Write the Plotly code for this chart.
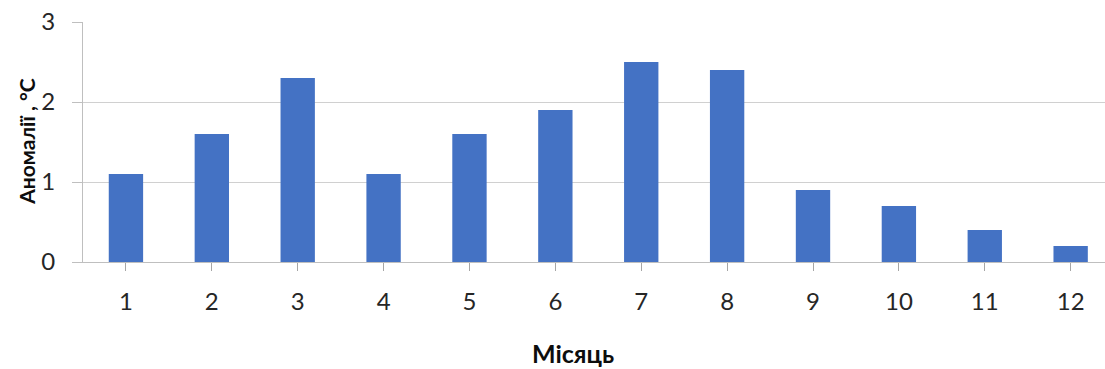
import plotly.graph_objects as go

months = [1, 2, 3, 4, 5, 6, 7, 8, 9, 10, 11, 12]
anomalies = [1.1, 1.6, 2.3, 1.1, 1.6, 1.9, 2.5, 2.4, 0.9, 0.7, 0.4, 0.2]
y_ticks = [0, 1, 2, 3]

fig = go.Figure(
    go.Bar(
        x=months,
        y=anomalies,
        width=0.4,
        marker=dict(color="#4472C4", line=dict(width=0)),
    )
)

tick_font = dict(family="Lato, Open Sans, sans-serif", size=24, color="#262626")
title_font = dict(family="Lato, Open Sans, sans-serif", size=21, color="#0d0d0d")

fig.update_layout(
    width=1105,
    height=369,
    margin=dict(l=83, r=0, t=22, b=107),
    paper_bgcolor="white",
    plot_bgcolor="white",
    showlegend=False,
    xaxis=dict(
        range=[0.5, 12.4],
        tickvals=months,
        ticktext=[str(m) for m in months],
        tickfont=tick_font,
        ticks="outside",
        ticklen=8,
        tickcolor="#a6a6a6",
        ticklabelstandoff=10,
        showgrid=False,
        showline=True,
        linecolor="#bfbfbf",
        linewidth=1,
        zeroline=False,
    ),
    yaxis=dict(
        range=[0, 3],
        tickvals=y_ticks,
        tickfont=tick_font,
        ticks="outside",
        ticklen=10,
        tickcolor="#bfbfbf",
        ticklabelstandoff=12,
        showgrid=True,
        gridcolor="#d0d0d0",
        gridwidth=1,
        showline=True,
        linecolor="#bfbfbf",
        linewidth=1,
        zeroline=False,
    ),
    annotations=[
        dict(
            text="<b>Аномалії , °C</b>",
            xref="paper", yref="paper",
            x=-0.056, y=0.5,
            xanchor="center", yanchor="middle",
            textangle=-90,
            showarrow=False,
            font=title_font,
        ),
        dict(
            text="<b>Місяць</b>",
            xref="paper", yref="paper",
            x=0.479, y=-0.38,
            xanchor="center", yanchor="middle",
            showarrow=False,
            font=dict(family="Lato, Open Sans, sans-serif", size=25, color="#0d0d0d"),
        ),
    ],
)

fig.write_html("out.html")
